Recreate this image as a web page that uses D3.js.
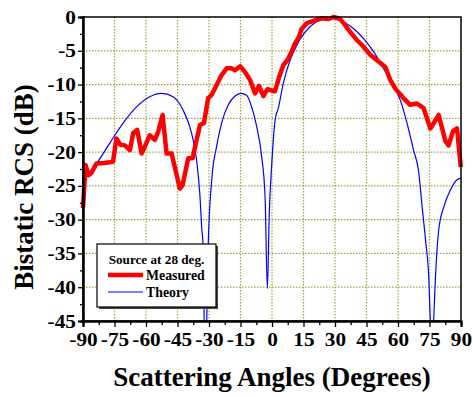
<!DOCTYPE html>
<html>
<head>
<meta charset="utf-8">
<script src="https://cdn.jsdelivr.net/npm/d3@7"></script>
<style>
  body { margin: 0; background: #fff; }
  text { font-family: "Liberation Serif", "Times New Roman", serif; font-weight: bold; }
</style>
</head>
<body>
<div class="canvas"></div>
<script>
// data
const measuredAngle = [-90, -88.8, -87.3, -86, -83.6, -80, -77.3, -75.7, -74.1, -72.2, -70.1, -67.7, -66.1, -64.2,
  -62.1, -60.6, -58.2, -55.8, -54.2, -52.1, -50.2, -47.8, -43.9, -42.6, -39.9, -37.8, -35.9, -34.3, -32.4,
  -30.4, -28.7, -24, -21.6, -19.2, -17.6, -15.2, -12.9, -10.5, -8.1, -6.2, -4.1, -2.2, 1.4, 3.5, 5.4, 7.3,
  9.4, 11, 12.9, 14, 16.6, 20.5, 23.7, 26.9, 29.3, 32.5, 34.8, 37.2, 40.4, 43.6, 46.8, 50.7, 54, 56.3, 58.7,
  62.6, 65.8, 69, 72.2, 75.4, 79.4, 82.5, 84.1, 86.2, 88.1, 89.9];
const measuredDb = [-28.3, -21.9, -23.4, -23.1, -21.7, -21.6, -21.5, -21.4, -18.0, -18.9, -19.0, -19.7, -17.2, -16.7,
  -20.2, -19.2, -17.5, -18.2, -17.0, -14.5, -20.2, -20.2, -25.4, -24.9, -20.9, -20.9, -18.2, -16.0, -15.7,
  -12.0, -11.5, -8.6, -7.6, -7.6, -7.9, -7.3, -8.1, -9.3, -11.3, -10.2, -11.7, -10.7, -11.0, -8.8, -7.1, -6.4,
  -5.1, -3.9, -2.9, -1.8, -0.9, -0.5, -0.2, -0.3, 0, -0.3, -1.2, -2.2, -3.4, -4.4, -5.6, -6.6, -7.4, -9.3, -10.6,
  -12.0, -13.0, -12.8, -13.5, -16.5, -14.5, -18.3, -19.0, -16.9, -16.5, -22.2];

const theoryAngle = [-90, -83.6, -77.3, -70.9, -64.5, -58.2, -52.6, -47.1, -42.3, -38.3, -35.9, -34.3, -33.5, -32.8,
  -32.3, -31.6, -31.0, -30.4, -28.7, -26.4, -24, -20.8, -17.6, -14.9, -12.1, -9.7, -7.3, -4.9, -3.3, -2.2,
  -1.3, -0.1, 1.5, 3.0, 5.4, 8.6, 11.8, 13.4, 18.2, 23, 28.5, 34, 38.8, 43.6, 48.3, 53.1, 56.3, 61.1, 64.3,
  67.4, 69.8, 71.5, 73.1, 74.7, 75.4, 76.2, 77, 77.8, 79.4, 81.8, 85, 88.1, 90];
const theoryDb = [-23.9, -21.7, -18.7, -15.7, -13.3, -11.8, -11.3, -11.8, -13.8, -17.2, -21.2, -26.5, -31.0, -34.0,
  -45, -55, -43.8, -34.0, -24.1, -19.2, -15.7, -13.0, -11.7, -11.3, -11.6, -13.3, -16.2, -20.7, -26.6, -40.2,
  -29.1, -21.7, -15.2, -13.5, -9.8, -6.4, -4.2, -3.3, -1.4, -0.4, 0, -0.7, -1.7, -3.2, -5.1, -7.6, -9.3, -12.3, -15.7,
  -19.7, -22.8, -28.1, -33.0, -38.9, -45, -55, -45, -38.9, -31.5, -28.1, -25.6, -24.1, -23.9];

const xTicks = [-90, -75, -60, -45, -30, -15, 0, 15, 30, 45, 60, 75, 90];
const yTicks = [0, -5, -10, -15, -20, -25, -30, -35, -40, -45];

const legendTitle = 'Source at 28 deg.';
const seriesNames = ['Measured', 'Theory'];

const svg = d3.select('.canvas')
  .append('svg')
    .attr('width', 473)
    .attr('height', 397);

const margin = {top: 17, right: 12, bottom: 76, left: 83};
const graphWidth = 473 - margin.left - margin.right;
const graphHeight = 397 - margin.top - margin.bottom;

const graph = svg.append('g')
  .attr('transform', `translate(${margin.left}, ${margin.top})`);

const x = d3.scaleLinear().domain([-90, 90]).range([0, graphWidth]);
const y = d3.scaleLinear().domain([-45, 0]).range([graphHeight, 0]);

svg.append('defs').append('clipPath').attr('id', 'clip')
  .append('rect').attr('width', graphWidth).attr('height', graphHeight);

// dotted grid
const gridColor = '#a3a33c';
graph.append('g').selectAll('line')
  .data(xTicks.slice(1, -1))
  .enter().append('line')
    .attr('x1', d => x(d)).attr('x2', d => x(d))
    .attr('y1', 0).attr('y2', graphHeight)
    .attr('stroke', gridColor).attr('stroke-width', 1.2)
    .attr('stroke-dasharray', '1.5,1.5');
graph.append('g').selectAll('line')
  .data(yTicks.slice(1, -1))
  .enter().append('line')
    .attr('y1', d => y(d)).attr('y2', d => y(d))
    .attr('x1', 0).attr('x2', graphWidth)
    .attr('stroke', gridColor).attr('stroke-width', 1.2)
    .attr('stroke-dasharray', '1.5,1.5');

// curves
const measured = measuredAngle.map((a, i) => ({a, v: measuredDb[i]}));
const theory = theoryAngle.map((a, i) => ({a, v: theoryDb[i]}));

const plot = graph.append('g').attr('clip-path', 'url(#clip)');

plot.append('path')
  .datum(theory)
  .attr('fill', 'none')
  .attr('stroke', '#0000ff')
  .attr('stroke-width', 1.2)
  .attr('d', d3.line().x(d => x(d.a)).y(d => y(d.v)).curve(d3.curveMonotoneX));

graph.append('path')
  .datum(measured)
  .attr('fill', 'none')
  .attr('stroke', '#ff0000')
  .attr('stroke-width', 4.5)
  .attr('stroke-linejoin', 'round')
  .attr('d', d3.line().x(d => x(d.a)).y(d => y(d.v)));

// frame
graph.append('rect')
  .attr('width', graphWidth).attr('height', graphHeight)
  .attr('fill', 'none').attr('stroke', '#000').attr('stroke-width', 1.5);

// axes (plain hyphen for negatives, like the source)
const fmt = d => String(d);
const xAxis = d3.axisBottom(x).tickValues(xTicks).tickSize(6).tickPadding(6).tickFormat(fmt);
const xMinor = d3.axisBottom(x).tickValues(d3.range(-82.5, 90, 15)).tickSize(4).tickFormat('');
const yAxis = d3.axisLeft(y).tickValues(yTicks).tickSize(5).tickPadding(2).tickFormat(fmt);
const yMinor = d3.axisLeft(y).tickValues(d3.range(-42.5, 0, 5)).tickSize(3).tickFormat('');

const xAxisGroup = graph.append('g').attr('transform', `translate(0, ${graphHeight})`).call(xAxis);
graph.append('g').attr('transform', `translate(0, ${graphHeight})`).call(xMinor);
const yAxisGroup = graph.append('g').call(yAxis);
graph.append('g').call(yMinor);

graph.selectAll('.domain').attr('stroke-width', 2);
graph.selectAll('.tick line').attr('stroke-width', 1.3);

// tick labels are a little wider than plain Times in the source
xAxisGroup.selectAll('text')
  .style('font-size', '19px').attr('fill', '#000')
  .attr('transform', 'scale(1.12,1)');
yAxisGroup.selectAll('text')
  .style('font-size', '19px').attr('fill', '#000')
  .attr('x', -6.3)
  .attr('transform', 'scale(1.12,1)');

// axis titles
svg.append('text')
  .attr('x', 272).attr('y', 386)
  .attr('text-anchor', 'middle')
  .attr('font-size', 27)
  .text('Scattering Angles (Degrees)');

svg.append('text')
  .attr('transform', 'translate(33, 187) rotate(-90)')
  .attr('text-anchor', 'middle')
  .attr('font-size', 27)
  .text('Bistatic RCS (dB)');

// legend
const legend = svg.append('g').attr('transform', 'translate(97, 244)');
legend.append('rect')
  .attr('x', 2).attr('y', 2).attr('width', 119).attr('height', 63)
  .attr('fill', '#444');
legend.append('rect')
  .attr('width', 119).attr('height', 63)
  .attr('fill', '#fff').attr('stroke', '#000').attr('stroke-width', 1.2);
legend.append('text')
  .attr('x', 59.5).attr('y', 20)
  .attr('text-anchor', 'middle')
  .attr('font-size', 13.2)
  .text(legendTitle);

const items = legend.selectAll('.item')
  .data(seriesNames)
  .enter().append('g')
    .attr('transform', (d, i) => `translate(0, ${31 + i * 17})`);
items.append('line')
  .attr('x1', 11).attr('x2', 46)
  .attr('stroke', (d, i) => i === 0 ? '#ff0000' : '#0000ff')
  .attr('stroke-width', (d, i) => i === 0 ? 4.5 : 1.2);
items.append('text')
  .attr('x', 49).attr('y', 4.5)
  .attr('font-size', 13.8)
  .text(d => d);
</script>
</body>
</html>
